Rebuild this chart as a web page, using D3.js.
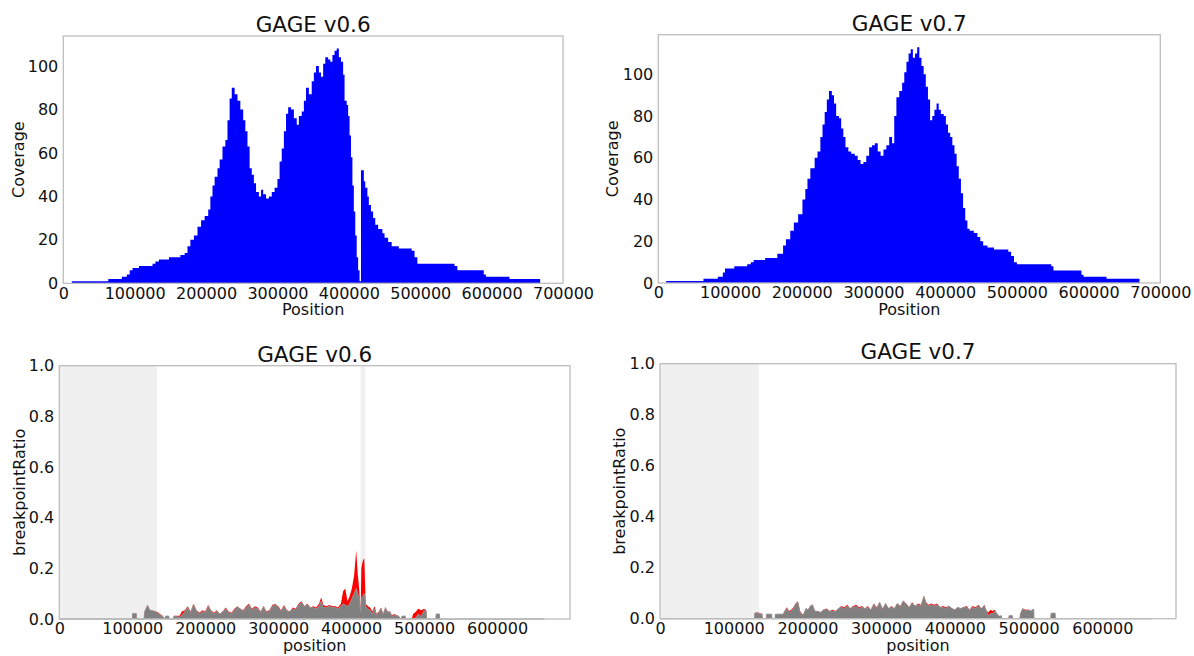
<!DOCTYPE html>
<html>
<head>
<meta charset="utf-8">
<script src="https://cdn.jsdelivr.net/npm/d3@7"></script>
<style>
  body { margin: 0; background: #fff; }
  svg { display: block; font-family: "DejaVu Sans", sans-serif; }
</style>
</head>
<body>
<svg id="chart" width="1194" height="656"></svg>
<script>
// Coverage (step profiles) — GAGE v0.6 / v0.7
const cov06Pos = [12000, 63000, 82000, 89000, 93000, 97000, 106000, 125000, 129000, 134000, 148000, 164000, 170000, 174000, 178000,
  183000, 188000, 193000, 198000, 203000, 206000, 209000, 212000, 216000, 219000, 223000, 227000, 230000, 233000, 236000,
  240000, 244000, 248000, 252000, 255000, 258000, 261000, 264000, 267000, 270000, 274000, 277000, 280000, 284000, 288000,
  292000, 296000, 300000, 303000, 306000, 309000, 312000, 315000, 319000, 323000, 327000, 330000, 334000, 337000, 340000,
  344000, 348000, 351000, 354000, 358000, 361000, 364000, 367000, 371000, 374000, 377000, 380000, 383000, 386000, 389000,
  392000, 394000, 397000, 399000, 401000, 403000, 405000, 407000, 409000, 411000, 413000, 415000, 417000, 421000, 423000,
  426000, 428000, 431000, 434000, 437000, 441000, 447000, 450000, 455000, 460000, 470000, 488000, 492000, 496000, 548000,
  552000, 589000, 592000, 625000, 668000];
const cov06 = [1, 2, 3, 4, 6, 7, 8, 9, 10, 11, 12, 13, 14, 17, 20,
  22, 26, 29, 31, 34, 40, 45, 49, 53, 57, 63, 66, 75, 85, 90,
  87, 84, 80, 75, 70, 63, 53, 50, 46, 42, 40, 43, 41, 39, 40,
  42, 44, 48, 56, 62, 70, 78, 81, 80, 76, 73, 77, 79, 84, 90,
  87, 93, 97, 100, 97, 95, 101, 104, 103, 102, 105, 107, 108, 104, 102,
  96, 84, 82, 77, 68, 58, 45, 33, 22, 12, 6, 1, 52, 47, 44,
  40, 36, 33, 30, 27, 25, 23, 21, 19, 17, 16, 15, 12, 9, 8,
  6, 4, 3, 2, 0];

const cov07Pos = [11000, 63000, 83000, 90000, 93000, 106000, 124000, 129000, 133000, 149000, 166000, 174000, 178000, 184000, 189000,
  195000, 201000, 205000, 208000, 212000, 218000, 222000, 226000, 229000, 232000, 235000, 238000, 242000, 245000, 248000,
  252000, 255000, 258000, 261000, 265000, 269000, 274000, 278000, 282000, 286000, 290000, 294000, 298000, 302000, 306000,
  310000, 314000, 318000, 322000, 326000, 329000, 332000, 336000, 340000, 343000, 346000, 349000, 352000, 355000, 358000,
  361000, 364000, 367000, 370000, 373000, 376000, 379000, 382000, 385000, 388000, 391000, 394000, 398000, 401000, 404000,
  407000, 410000, 413000, 416000, 419000, 422000, 425000, 428000, 431000, 434000, 440000, 445000, 449000, 453000, 459000,
  468000, 488000, 492000, 496000, 500000, 548000, 551000, 590000, 593000, 625000, 671000];
const cov07 = [1, 2, 3, 5, 7, 8, 9, 10, 11, 12, 14, 18, 21, 25, 29,
  33, 40, 45, 50, 55, 60, 63, 70, 76, 82, 88, 92, 90, 86, 80,
  79, 74, 70, 65, 63, 62, 61, 59, 57, 58, 61, 65, 66, 67, 63,
  61, 64, 66, 70, 67, 80, 89, 92, 96, 101, 106, 110, 112, 108, 110,
  113, 108, 104, 100, 94, 88, 78, 80, 83, 86, 83, 81, 80, 76, 72,
  70, 66, 62, 56, 50, 43, 36, 30, 26, 25, 24, 22, 20, 18, 17,
  16, 15, 13, 10, 9, 8, 6, 4, 3, 2, 0];

// breakpointRatio — GAGE v0.6
const bp06Pos = [0, 100000, 100500, 105500, 106000, 116000, 117000, 121000, 124000, 128000, 132000, 135000, 139000, 142000, 144000,
  146000, 150000, 151000, 156000, 157000, 165000, 168000, 172000, 176000, 180000, 184000, 188000, 192000, 196000, 200000,
  204000, 208000, 212000, 216000, 220000, 224000, 228000, 232000, 236000, 240000, 244000, 248000, 252000, 256000, 260000,
  264000, 268000, 272000, 276000, 280000, 284000, 288000, 292000, 296000, 300000, 304000, 308000, 312000, 316000, 320000,
  324000, 328000, 332000, 336000, 340000, 344000, 348000, 352000, 356000, 359000, 362000, 366000, 370000, 374000, 378000,
  382000, 386000, 389000, 392000, 395000, 398000, 401000, 404000, 407000, 409000, 411000, 413000, 414000, 416000, 418000,
  420000, 423000, 426000, 429000, 432000, 435000, 438000, 441000, 444000, 447000, 450000, 453000, 456000, 459000, 462000,
  465000, 468000, 470000, 474000, 475000, 483000, 485000, 489000, 492000, 496000, 500000, 503000, 503500, 516000, 516500,
  521000, 521500, 665000];
const bp06Red = [0, 0, 0.022, 0.022, 0, 0, 0.03, 0.055, 0.035, 0.033, 0.03, 0.027, 0.018, 0.012, 0,
  0.012, 0.012, 0, 0, 0.013, 0.013, 0.03, 0.035, 0.05, 0.03, 0.06, 0.035, 0.025, 0.035, 0.03,
  0.055, 0.035, 0.025, 0.035, 0.02, 0.03, 0.045, 0.03, 0.025, 0.04, 0.05, 0.04, 0.035, 0.05, 0.06,
  0.04, 0.05, 0.045, 0.03, 0.05, 0.03, 0.035, 0.055, 0.06, 0.05, 0.035, 0.055, 0.035, 0.03, 0.045,
  0.04, 0.06, 0.07, 0.05, 0.06, 0.045, 0.05, 0.045, 0.06, 0.085, 0.055, 0.05, 0.055, 0.05, 0.05,
  0.045, 0.06, 0.11, 0.12, 0.07, 0.09, 0.12, 0.17, 0.27, 0.18, 0.12, 0.03, 0.2, 0.23, 0.24,
  0.06, 0.05, 0.045, 0.03, 0.05, 0.02, 0.03, 0.045, 0.02, 0.045, 0.03, 0.03, 0.015, 0.02, 0.015,
  0.012, 0, 0.012, 0.012, 0, 0, 0.02, 0.03, 0.04, 0.035, 0.04, 0.035, 0, 0, 0.02,
  0.02, 0, 0];
const bp06Grey = [0, 0, 0.022, 0.022, 0, 0, 0.03, 0.055, 0.035, 0.033, 0.03, 0.022, 0.015, 0.01, 0,
  0.012, 0.012, 0, 0, 0.01, 0.008, 0.015, 0.03, 0.045, 0.025, 0.058, 0.03, 0.02, 0.03, 0.025,
  0.05, 0.03, 0.02, 0.03, 0.02, 0.028, 0.04, 0.025, 0.02, 0.035, 0.048, 0.04, 0.03, 0.045, 0.055,
  0.035, 0.045, 0.04, 0.025, 0.05, 0.025, 0.03, 0.05, 0.058, 0.045, 0.03, 0.05, 0.03, 0.03, 0.04,
  0.035, 0.055, 0.065, 0.05, 0.055, 0.045, 0.045, 0.04, 0.05, 0.07, 0.045, 0.045, 0.05, 0.045, 0.045,
  0.04, 0.05, 0.06, 0.055, 0.05, 0.06, 0.08, 0.1, 0.12, 0.1, 0.08, 0.03, 0.08, 0.09, 0.1,
  0.05, 0.04, 0.035, 0.02, 0.04, 0.015, 0.025, 0.04, 0.02, 0.045, 0.025, 0.03, 0.01, 0.015, 0.015,
  0.012, 0, 0.012, 0.012, 0, 0, 0, 0.005, 0.02, 0.01, 0.035, 0.03, 0, 0, 0.02,
  0.02, 0, 0];

// breakpointRatio — GAGE v0.7
const bp07Pos = [0, 128000, 128500, 133000, 135000, 138500, 139000, 144000, 144500, 151500, 152000, 156000, 156500, 167000, 169000,
  172000, 175000, 178000, 181000, 184000, 187000, 190000, 192000, 195000, 198000, 201000, 204000, 207000, 210000, 214000,
  218000, 222000, 226000, 230000, 234000, 238000, 242000, 246000, 250000, 254000, 258000, 262000, 266000, 270000, 274000,
  278000, 282000, 286000, 290000, 294000, 298000, 302000, 306000, 310000, 314000, 318000, 322000, 326000, 330000, 334000,
  338000, 342000, 346000, 350000, 354000, 358000, 361000, 364000, 368000, 372000, 376000, 380000, 384000, 388000, 392000,
  396000, 400000, 404000, 408000, 412000, 416000, 420000, 424000, 428000, 432000, 436000, 440000, 443000, 446000, 448000,
  451000, 454000, 457000, 460000, 463000, 464000, 473000, 473500, 478000, 478500, 488000, 489000, 492000, 496000, 500000,
  503000, 507000, 507500, 530000, 530500, 536000, 536500, 667000];
const bp07Red = [0, 0, 0.022, 0.025, 0.02, 0.02, 0, 0, 0.018, 0.018, 0, 0, 0.018, 0.018, 0.03,
  0.045, 0.03, 0.035, 0.045, 0.06, 0.068, 0.03, 0.02, 0.015, 0.04, 0.035, 0.05, 0.055, 0.03, 0.03,
  0.025, 0.035, 0.04, 0.03, 0.035, 0.03, 0.04, 0.05, 0.045, 0.055, 0.04, 0.05, 0.055, 0.045, 0.05,
  0.04, 0.05, 0.035, 0.06, 0.045, 0.065, 0.04, 0.06, 0.04, 0.05, 0.04, 0.06, 0.05, 0.07, 0.06,
  0.045, 0.065, 0.05, 0.06, 0.055, 0.09, 0.065, 0.055, 0.06, 0.055, 0.06, 0.045, 0.05, 0.045, 0.05,
  0.04, 0.035, 0.045, 0.04, 0.045, 0.05, 0.035, 0.05, 0.045, 0.055, 0.04, 0.055, 0.03, 0.025, 0.035,
  0.03, 0.035, 0.02, 0.01, 0.012, 0, 0, 0.012, 0.012, 0, 0, 0.02, 0.04, 0.035, 0.035,
  0.03, 0.038, 0, 0, 0.022, 0.022, 0, 0];
const bp07Grey = [0, 0, 0.022, 0.022, 0.018, 0.018, 0, 0, 0.018, 0.018, 0, 0, 0.018, 0.018, 0.028,
  0.04, 0.025, 0.03, 0.04, 0.058, 0.065, 0.025, 0.012, 0.02, 0.04, 0.035, 0.05, 0.055, 0.03, 0.028,
  0.025, 0.035, 0.035, 0.03, 0.03, 0.028, 0.04, 0.045, 0.04, 0.05, 0.04, 0.045, 0.05, 0.04, 0.045,
  0.04, 0.045, 0.035, 0.055, 0.04, 0.065, 0.035, 0.06, 0.04, 0.045, 0.04, 0.06, 0.045, 0.07, 0.055,
  0.045, 0.06, 0.05, 0.055, 0.05, 0.088, 0.06, 0.05, 0.055, 0.05, 0.055, 0.045, 0.045, 0.04, 0.05,
  0.04, 0.035, 0.045, 0.04, 0.045, 0.045, 0.035, 0.045, 0.04, 0.05, 0.04, 0.05, 0.03, 0.01, 0.02,
  0.02, 0.03, 0.02, 0.01, 0.012, 0, 0, 0.012, 0.012, 0, 0, 0.02, 0.04, 0.03, 0.035,
  0.03, 0.038, 0, 0, 0.022, 0.022, 0, 0];

// shaded (excluded) position ranges
const shade06 = [[0, 134000], [413000, 419500]];
const shade07 = [[0, 134000]];

const covXTicks = [0, 100000, 200000, 300000, 400000, 500000, 600000, 700000];
const covYTicks = [0, 20, 40, 60, 80, 100];
const bpXTicks = [0, 100000, 200000, 300000, 400000, 500000, 600000];
const bpYTicks = [0, 0.2, 0.4, 0.6, 0.8, 1.0];

const svg = d3.select('#chart');
const SPINE = '#bdbdbd';

function drawPanel(p) {
  const g = svg.append('g');
  const x = d3.scaleLinear().domain(p.xDomain).range([p.left, p.right]);
  const y = d3.scaleLinear().domain(p.yDomain).range([p.bottom, p.top]);

  (p.shade || []).forEach(([a, b]) => {
    g.append('rect').attr('x', x(a)).attr('y', p.top)
      .attr('width', x(b) - x(a)).attr('height', p.bottom - p.top)
      .attr('fill', '#f0f0f0');
  });

  p.series.forEach(s => {
    const pts = s.pos.map((v, i) => [v, s.val[i]]);
    const area = d3.area().x(d => x(d[0])).y0(y(0)).y1(d => y(d[1])).curve(s.curve || d3.curveLinear);
    g.append('path').datum(pts).attr('d', area)
      .attr('fill', s.color).attr('stroke', s.stroke || 'none').attr('stroke-width', 0.8);
  });

  g.append('rect').attr('x', p.left).attr('y', p.top)
    .attr('width', p.right - p.left).attr('height', p.bottom - p.top)
    .attr('fill', 'none').attr('stroke', SPINE).attr('stroke-width', 1.3);

  const xa = g.append('g').attr('transform', `translate(0,${p.bottom})`)
    .call(d3.axisBottom(x).tickValues(p.xTicks).tickSize(0).tickPadding(4).tickFormat(d3.format('d')));
  const ya = g.append('g').attr('transform', `translate(${p.left},0)`)
    .call(d3.axisLeft(y).tickValues(p.yTicks).tickSize(0).tickPadding(5).tickFormat(p.yFormat));
  [xa, ya].forEach(a => {
    a.select('.domain').remove();
    a.selectAll('text').attr('font-family', '"DejaVu Sans", sans-serif').attr('font-size', 16).attr('fill', '#111');
  });

  g.append('text').attr('x', (p.left + p.right) / 2).attr('y', p.titleY)
    .attr('text-anchor', 'middle').attr('font-size', 21.5).attr('fill', '#111').text(p.title);
  g.append('text').attr('x', (p.left + p.right) / 2).attr('y', p.bottom + 32)
    .attr('text-anchor', 'middle').attr('font-size', 16).attr('fill', '#111').text(p.xLabel);
  g.append('text')
    .attr('transform', `translate(${p.left - p.yLabelOff},${(p.top + p.bottom) / 2}) rotate(-90)`)
    .attr('text-anchor', 'middle').attr('font-size', 16).attr('fill', '#111').text(p.yLabel);
}

drawPanel({
  left: 63.3, right: 563, top: 36, bottom: 283.3, titleY: 32.3,
  xDomain: [0, 700000], yDomain: [0, 113.8], xTicks: covXTicks, yTicks: covYTicks, yFormat: d3.format('d'),
  title: 'GAGE v0.6', xLabel: 'Position', yLabel: 'Coverage', yLabelOff: 39,
  series: [{ pos: cov06Pos, val: cov06, color: '#0000ff', curve: d3.curveStepAfter }]
});
drawPanel({
  left: 658.3, right: 1160.3, top: 34.7, bottom: 283, titleY: 30.7,
  xDomain: [0, 700000], yDomain: [0, 119], xTicks: covXTicks, yTicks: covYTicks, yFormat: d3.format('d'),
  title: 'GAGE v0.7', xLabel: 'Position', yLabel: 'Coverage', yLabelOff: 40,
  series: [{ pos: cov07Pos, val: cov07, color: '#0000ff', curve: d3.curveStepAfter }]
});
drawPanel({
  left: 59.3, right: 570, top: 365.7, bottom: 619, titleY: 361.7,
  xDomain: [0, 700000], yDomain: [0, 1], xTicks: bpXTicks, yTicks: bpYTicks, yFormat: d3.format('.1f'),
  title: 'GAGE v0.6', xLabel: 'position', yLabel: 'breakpointRatio', yLabelOff: 34,
  shade: shade06,
  series: [
    { pos: bp06Pos, val: bp06Red, color: '#ff0000' },
    { pos: bp06Pos, val: bp06Grey, color: '#808080', stroke: '#9a9a9a' }
  ]
});
drawPanel({
  left: 660, right: 1176, top: 363.7, bottom: 618.7, titleY: 359.3,
  xDomain: [0, 700000], yDomain: [0, 1], xTicks: bpXTicks, yTicks: bpYTicks, yFormat: d3.format('.1f'),
  title: 'GAGE v0.7', xLabel: 'position', yLabel: 'breakpointRatio', yLabelOff: 35,
  shade: shade07,
  series: [
    { pos: bp07Pos, val: bp07Red, color: '#ff0000' },
    { pos: bp07Pos, val: bp07Grey, color: '#808080', stroke: '#9a9a9a' }
  ]
});
</script>
</body>
</html>
